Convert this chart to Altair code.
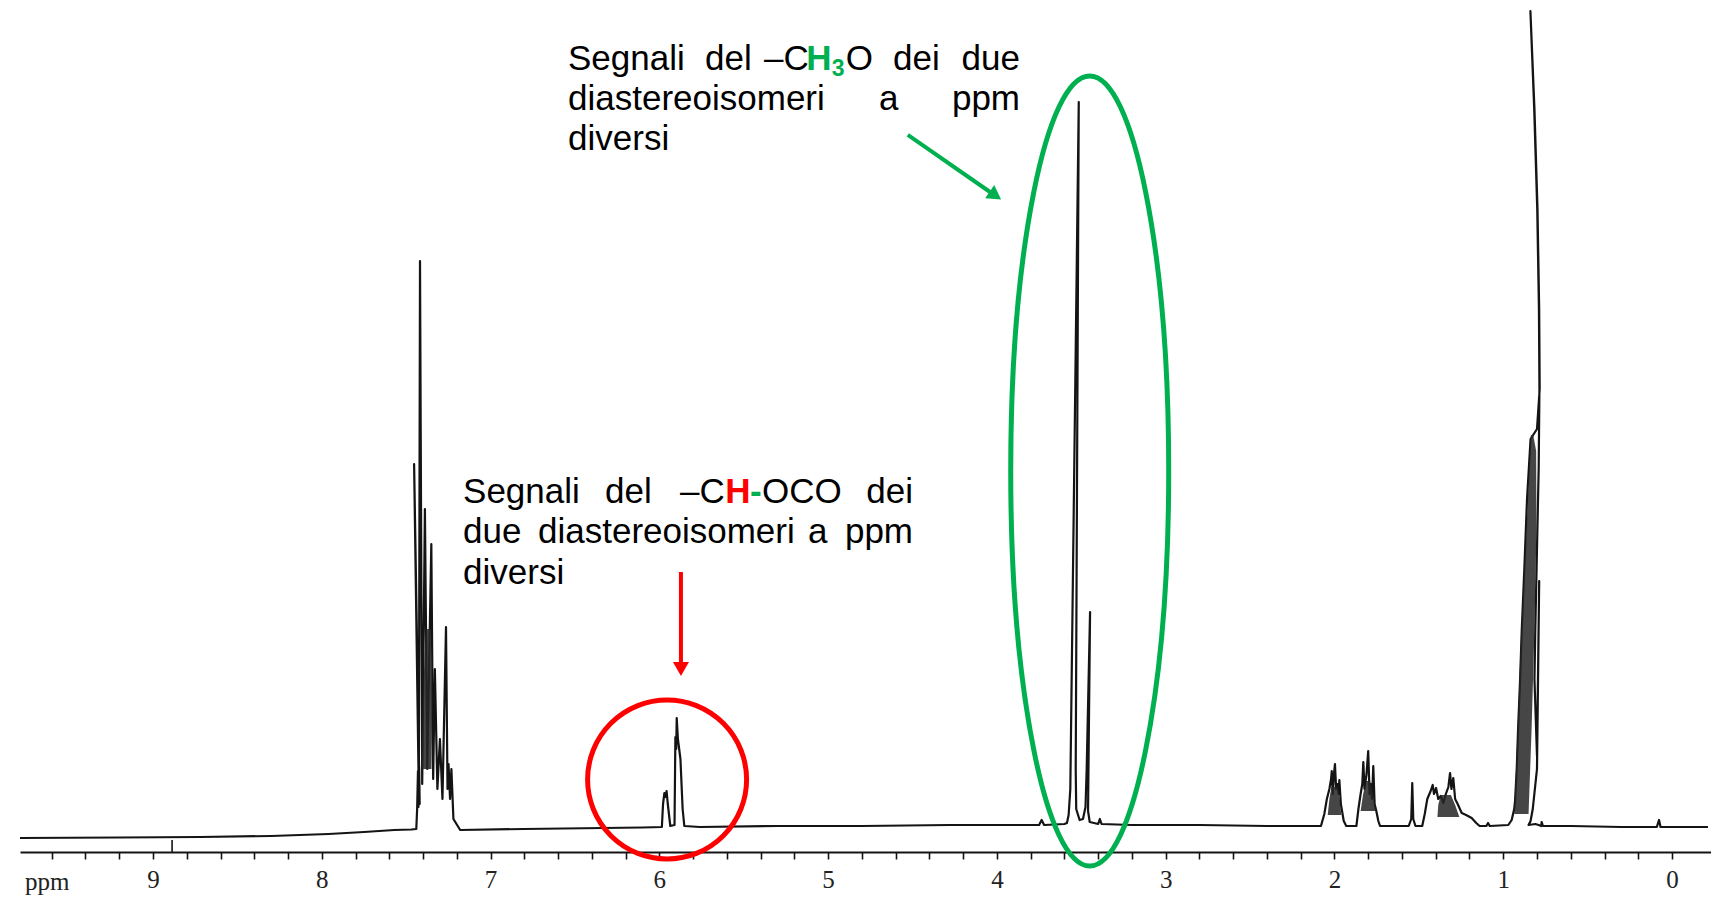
import altair as alt
import pandas as pd

# ---------------- spectrum trace (ppm, relative intensity) ----------------
BASE_LEFT_PPM = [9.788, 9.2, 8.72, 8.3, 7.96, 7.75, 7.57, 7.47]
BASE_LEFT_I = [-9, -8.5, -8, -7, -5, -3, -1, -0.5]

AROM_PPM = [7.44, 7.435, 7.43, 7.427, 7.423, 7.42, 7.453, 7.425, 7.418, 7.405, 7.389, 7.375,
            7.351, 7.34, 7.33, 7.315, 7.30, 7.285, 7.264, 7.255, 7.249, 7.24, 7.232, 7.22, 7.18]
AROM_I = [0, 20, 58, 22, 62, 25, 365, 35, 568, 45, 320, 60,
          285, 50, 160, 40, 90, 30, 202, 40, 65, 30, 60, 10, -1]

MID1_PPM = [6.8, 6.33, 6.1]
MID1_I = [0, 1, 1.5]

CHO_PPM = [5.985, 5.978, 5.97, 5.963, 5.957, 5.95, 5.935, 5.91, 5.905, 5.90, 5.897, 5.89, 5.875, 5.862, 5.852]
CHO_I = [2, 25, 36, 32, 38, 25, 3, 4, 92, 80, 111, 90, 70, 20, 3]

MID2_PPM = [5.76, 5.3, 4.8, 4.28, 3.9, 3.75, 3.735, 3.72, 3.60]
MID2_I = [2, 3, 3, 4, 4, 4, 9, 4, 5]

OME_PPM = [3.585, 3.575, 3.565, 3.515, 3.533, 3.53, 3.51, 3.49, 3.475, 3.468, 3.448, 3.46, 3.45, 3.40, 3.39, 3.38]
OME_I = [6, 14, 40, 727, 60, 20, 9, 10, 22, 60, 217, 18, 7, 5, 10, 5]

MID3_PPM = [3.2, 2.8, 2.4, 2.2, 2.08]
MID3_I = [4, 4, 3, 3, 3]

ALK_PPM = [2.06, 2.045, 2.03, 2.02, 2.016, 2.01, 2.003, 1.997, 1.99, 1.982, 1.975, 1.971, 1.962, 1.955, 1.945, 1.93,
           1.87, 1.858, 1.845, 1.835, 1.829, 1.822, 1.81, 1.80, 1.792, 1.785, 1.777, 1.77, 1.762, 1.752, 1.74, 1.73,
           1.56, 1.545, 1.539, 1.533, 1.52,
           1.48, 1.465, 1.45, 1.43, 1.418, 1.41, 1.398, 1.385, 1.37, 1.355, 1.34, 1.325, 1.315, 1.307, 1.296,
           1.285, 1.27, 1.246, 1.22, 1.187, 1.16, 1.14, 1.10, 1.09, 1.08]
ALK_I = [15, 30, 40, 50, 58, 35, 55, 65, 40, 45, 35, 49, 25, 18, 8, 3,
         3, 20, 35, 45, 67, 40, 55, 78, 35, 45, 30, 63, 25, 18, 8, 3,
         3, 10, 46, 10, 3,
         3, 15, 30, 38, 44, 35, 41, 30, 33, 26, 35, 42, 56, 40, 51,
         30, 25, 16, 14, 11, 6, 3, 3, 6, 3]

ME_PPM = [0.97, 0.95, 0.935, 0.93, 0.92, 0.912, 0.90, 0.89, 0.875, 0.859, 0.838, 0.80, 0.784, 0.787, 0.797,
          0.815, 0.839, 0.8165, 0.7985, 0.7885, 0.7855, 0.79, 0.80, 0.81, 0.815, 0.80, 0.787, 0.80, 0.825,
          0.838, 0.85, 0.81, 0.79, 0.775, 0.772, 0.765]
ME_I = [4, 9, 20, 28, 60, 100, 150, 200, 260, 330, 390, 400, 440, 520, 620,
        720, 818, 720, 620, 520, 440, 360, 280, 200, 150, 73, 248, 60, 20,
        8, 4, 5, 4, 3, 7, 3]

BASE_RIGHT_PPM = [0.6, 0.3, 0.09, 0.077, 0.068, -0.213]
BASE_RIGHT_I = [3, 2, 2, 9, 2, 2]

# dark, densely over-written parts of the multiplets: intensity level, left and right ppm edge
BAND_NAME = ["arom"] * 3 + ["m20"] * 3 + ["m18"] * 3 + ["m14"] * 3 + ["m09"] * 6
BAND_I = [60, 130, 200, 14, 30, 42, 18, 35, 48, 12, 24, 34, 15, 100, 200, 300, 378, 394]
BAND_LEFT = [7.41, 7.40, 7.385, 2.04, 2.03, 2.018, 1.845, 1.83, 1.812, 1.39, 1.385, 1.37,
             0.935, 0.915, 0.893, 0.862, 0.842, 0.836]
BAND_RIGHT = [7.35, 7.345, 7.355, 1.96, 1.968, 1.982, 1.755, 1.772, 1.788, 1.26, 1.285, 1.31,
              0.85, 0.832, 0.815, 0.803, 0.805, 0.822]

# axis
TICK_VALUES = [9.6, 9.4, 9.2, 9.0, 8.8, 8.6, 8.4, 8.2, 8.0, 7.8, 7.6, 7.4, 7.2, 7.0, 6.8, 6.6, 6.4, 6.2,
               6.0, 5.8, 5.6, 5.4, 5.2, 5.0, 4.8, 4.6, 4.4, 4.2, 4.0, 3.8, 3.6, 3.4, 3.2, 3.0, 2.8, 2.6,
               2.4, 2.2, 2.0, 1.8, 1.6, 1.4, 1.2, 1.0, 0.8, 0.6, 0.4, 0.2, 0.0]
X_DOMAIN = [9.788, -0.231]
Y_DOMAIN = [-23, 818]

# ---------------- tables ----------------
ppm_all = (BASE_LEFT_PPM + AROM_PPM + MID1_PPM + CHO_PPM + MID2_PPM + OME_PPM + MID3_PPM
           + ALK_PPM + ME_PPM + BASE_RIGHT_PPM)
int_all = (BASE_LEFT_I + AROM_I + MID1_I + CHO_I + MID2_I + OME_I + MID3_I
           + ALK_I + ME_I + BASE_RIGHT_I)
spec = pd.DataFrame({"ppm": ppm_all, "v": int_all, "idx": range(len(ppm_all))})
bands = pd.DataFrame({"band": BAND_NAME, "v": BAND_I, "ppm": BAND_LEFT, "ppm2": BAND_RIGHT})

XS = alt.Scale(domain=X_DOMAIN, nice=False, zero=False)
YS = alt.Scale(domain=Y_DOMAIN, nice=False, zero=False)

INK = "#141414"
GREEN = "#00B050"
RED = "#FF0000"

X_AXIS = alt.Axis(
    values=TICK_VALUES,
    labelExpr="abs(datum.value - round(datum.value)) < 0.01 ? format(round(datum.value), 'd') : ''",
    title=None, grid=False, domainColor=INK, domainWidth=2, tickColor=INK, tickWidth=1.6,
    tickSize=7, labelFont="Liberation Serif", labelFontSize=25, labelColor="#222222",
    labelPadding=28, labelBaseline="alphabetic", labelFlush=False, labelOverlap=False,
)


def X(field="ppm"):
    return alt.X(f"{field}:Q", scale=XS, axis=X_AXIS)


def Y(field="v"):
    return alt.Y(f"{field}:Q", scale=YS, axis=None)


line = alt.Chart(spec).mark_line(color=INK, strokeWidth=2.2, strokeJoin="round").encode(
    x=X(), y=Y(), order="idx:Q")

band_layer = alt.Chart(bands).mark_area(orient="horizontal", color="#262626", opacity=0.85).encode(
    y=Y(), x=X(), x2="ppm2:Q", detail="band:N")

# small reference stroke standing on the axis near 8.9 ppm
MARK_PPM = [8.887]
MARK_LOW = [-23]
MARK_HIGH = [-11]
ref_mark = alt.Chart(pd.DataFrame({"ppm": MARK_PPM, "v": MARK_LOW, "v2": MARK_HIGH})).mark_rule(
    color=INK, strokeWidth=1.6).encode(x=X(), y=Y(), y2="v2:Q")


def pt(ppm, v):
    return pd.DataFrame({"ppm": [ppm], "v": [v]})


# ---------------- annotations ----------------
layers = [line, band_layer, ref_mark]

# red circle around the CH-OCO signals
layers.append(alt.Chart(pt(5.954, 49.5)).mark_point(
    shape="circle", filled=False, size=25281, strokeWidth=5, color=RED, opacity=1).encode(x=X(), y=Y()))

# green ellipse around the CH3O signals
a = 0.2
k = 0.5523
ELLIPSE = (f"M 0,-1 C {k*a:.4f},-1 {a},-{k} {a},0 C {a},{k} {k*a:.4f},1 0,1 "
           f"C -{k*a:.4f},1 -{a},{k} -{a},0 C -{a},-{k} -{k*a:.4f},-1 0,-1 Z")
layers.append(alt.Chart(pt(3.450, 358)).mark_point(
    shape=ELLIPSE, filled=False, size=624100, strokeWidth=5, color=GREEN, opacity=1).encode(x=X(), y=Y()))

# red arrow
layers.append(alt.Chart(pd.DataFrame({"ppm": [5.872], "v": [257], "v2": [162]})).mark_rule(
    color=RED, strokeWidth=4).encode(x=X(), y=Y(), y2="v2:Q"))
layers.append(alt.Chart(pt(5.872, 160)).mark_point(
    shape="triangle-down", filled=True, size=256, color=RED, opacity=1, strokeWidth=0).encode(x=X(), y=Y()))

# green arrow
layers.append(alt.Chart(pd.DataFrame({"ppm": [4.528], "v": [694.2], "ppm2": [4.015], "v2": [634]})).mark_rule(
    color=GREEN, strokeWidth=4).encode(x=X(), y=Y(), x2="ppm2:Q", y2="v2:Q"))
layers.append(alt.Chart(pt(4.009, 633.4)).mark_point(
    shape="triangle-up", angle=124.7, filled=True, size=256, color=GREEN, opacity=1, strokeWidth=0
).encode(x=X(), y=Y()))


def word(text, ppm, v, color="black", bold=False, size=35, align="left", font="Liberation Sans"):
    df = pd.DataFrame({"ppm": [ppm], "v": [v], "t": [text]})
    return alt.Chart(df).mark_text(
        align=align, baseline="alphabetic", font=font, fontSize=size,
        fontWeight="bold" if bold else "normal", color=color,
    ).encode(x=X(), y=Y(), text="t:N")


# upper (green) note
UPPER = [
    ("Segnali", 6.541, 759, "black", False, 35, "left"),
    ("del", 5.729, 759, "black", False, 35, "left"),
    ("\u2013C", 5.380, 759, "black", False, 35, "left"),
    ("H", 5.130, 759, GREEN, True, 35, "left"),
    ("3", 4.978, 753, GREEN, True, 23, "left"),
    ("O", 4.896, 759, "black", False, 35, "left"),
    ("dei", 4.615, 759, "black", False, 35, "left"),
    ("due", 3.863, 759, "black", False, 35, "right"),
    ("diastereoisomeri", 6.541, 719, "black", False, 35, "left"),
    ("a", 4.698, 719, "black", False, 35, "left"),
    ("ppm", 3.863, 719, "black", False, 35, "right"),
    ("diversi", 6.541, 679, "black", False, 35, "left"),
]
# lower (red) note
LOWER = [
    ("Segnali", 7.163, 326, "black", False, 35, "left"),
    ("del", 6.322, 326, "black", False, 35, "left"),
    ("\u2013C", 5.877, 326, "black", False, 35, "left"),
    ("H", 5.610, 326, RED, True, 35, "left"),
    ("-", 5.463, 326, GREEN, True, 35, "left"),
    ("OCO", 5.392, 326, "black", False, 35, "left"),
    ("dei", 4.497, 326, "black", False, 35, "right"),
    ("due", 7.163, 286, "black", False, 35, "left"),
    ("diastereoisomeri", 6.719, 286, "black", False, 35, "left"),
    ("a", 5.119, 286, "black", False, 35, "left"),
    ("ppm", 4.497, 286, "black", False, 35, "right"),
    ("diversi", 7.163, 245, "black", False, 35, "left"),
]
for w in UPPER + LOWER:
    layers.append(word(*w))

# axis unit written at the left end under the axis
layers.append(word("ppm", 9.758, -61, "#222222", False, 25, "left", "Liberation Serif"))

chart = alt.layer(*layers).properties(
    width=1691, height=841,
    autosize=alt.AutoSizeParams(type="none"),
    padding={"left": 12, "top": 3, "right": 0, "bottom": 46},
    background="white",
).configure_view(stroke=None)

chart.save("out.html", embed_options={"renderer": "svg", "actions": False})
